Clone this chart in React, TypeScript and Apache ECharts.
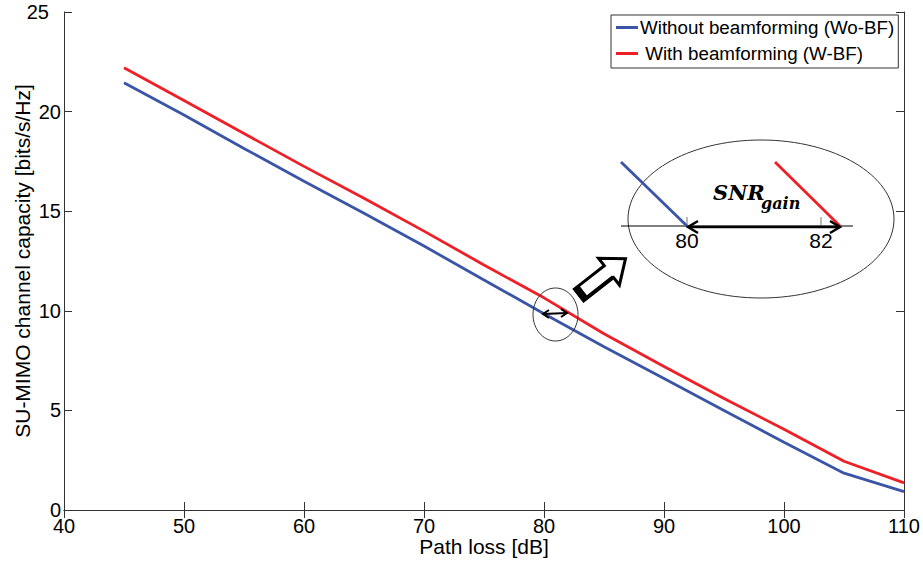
import React, { useEffect, useRef } from "react";
import * as echarts from "echarts";

const pathLoss = [45, 50, 55, 60, 65, 70, 75, 80, 85, 90, 95, 100, 105, 110];
const capacityWoBF = [21.45, 19.83, 18.15, 16.5, 14.9, 13.25, 11.55, 9.85, 8.2, 6.6, 5.0, 3.4, 1.85, 0.92];
const capacityWBF = [22.2, 20.56, 18.9, 17.25, 15.65, 14.0, 12.3, 10.65, 8.85, 7.2, 5.6, 4.05, 2.45, 1.36];
const seriesNames = ["Without beamforming (Wo-BF)", " With beamforming (W-BF)"];
const xTitle = "Path loss [dB]";
const yTitle = "SU-MIMO channel capacity [bits/s/Hz]";
const insetTicks = ["80", "82"];

const FONT = "Liberation Sans, Arial, sans-serif";
const BLUE = "#3b55a6";
const RED = "#ee1f26";
const AX = "#333333";

export default function App() {
  const ref = useRef<HTMLDivElement>(null);
  useEffect(() => {
    if (!ref.current) return;
    const chart = echarts.init(ref.current, null, { renderer: "svg" });
    const toPairs = (ys: number[]) => pathLoss.map((x, i) => [x, ys[i]]);
    const deg = (d: number) => (d * Math.PI) / 180;
    const axisCommon = {
      axisLine: { show: true, lineStyle: { color: AX, width: 1 } },
      axisTick: { show: true, inside: true, length: 8, lineStyle: { color: AX } },
      splitLine: { show: false },
    };
    const legendIcon = "path://M0,0 H22 V3 H0 Z";
    chart.setOption({
      animation: false,
      backgroundColor: "#ffffff",
      grid: { left: 64, right: 19, top: 12, bottom: 55, containLabel: false, outerBoundsMode: "none" },
      legend: {
        orient: "vertical",
        left: 611,
        top: 15,
        padding: [3, 4, 5, 5],
        itemGap: 7,
        itemWidth: 22,
        itemHeight: 18,
        backgroundColor: "#ffffff",
        borderColor: AX,
        borderWidth: 1,
        textStyle: { fontFamily: FONT, fontSize: 18.8, color: "#000", padding: [0, 0, 0, -3] },
        data: seriesNames.map((n) => ({ name: n, icon: legendIcon })),
      },
      xAxis: [
        {
          type: "value",
          min: 40,
          max: 110,
          interval: 10,
          name: xTitle,
          nameLocation: "middle",
          nameGap: 26,
          nameMoveOverlap: false,
          nameTextStyle: { fontFamily: FONT, fontSize: 21, color: "#000" },
          axisLabel: { fontFamily: FONT, fontSize: 20, color: "#000", margin: 6 },
          ...axisCommon,
        },
        {
          type: "value",
          position: "top",
          min: 40,
          max: 110,
          interval: 10,
          axisLabel: { show: false },
          ...axisCommon,
        },
      ],
      yAxis: [
        {
          type: "value",
          min: 0,
          max: 25,
          interval: 5,
          name: yTitle,
          nameLocation: "middle",
          nameGap: 31,
          nameMoveOverlap: false,
          nameTextStyle: { fontFamily: FONT, fontSize: 21, color: "#000" },
          axisLabel: {
            fontFamily: FONT,
            fontSize: 20,
            color: "#000",
            margin: 3,
            formatter: (v: number) => (v === 25 ? "{a|25}" : String(v)),
            rich: { a: { fontFamily: FONT, fontSize: 20, color: "#000", padding: [0, 12, 0, 0] } },
          },
          ...axisCommon,
        },
        {
          type: "value",
          position: "right",
          min: 0,
          max: 25,
          interval: 5,
          axisLabel: { show: false },
          ...axisCommon,
        },
      ],
      series: [
        {
          name: seriesNames[0],
          type: "line",
          data: toPairs(capacityWoBF),
          symbol: "none",
          color: BLUE,
          lineStyle: { color: BLUE, width: 2.8 },
          z: 3,
        },
        {
          name: seriesNames[1],
          type: "line",
          data: toPairs(capacityWBF),
          symbol: "none",
          color: RED,
          lineStyle: { color: RED, width: 2.8 },
          z: 3,
        },
      ],
      graphic: [
        { type: "ellipse", shape: { cx: 761, cy: 219, rx: 133, ry: 79 }, style: { fill: "none", stroke: "#333", lineWidth: 1 }, z: 10 },
        { type: "line", shape: { x1: 621, y1: 226, x2: 853, y2: 226 }, style: { stroke: "#000", lineWidth: 1 }, z: 10 },
        { type: "line", shape: { x1: 687, y1: 217, x2: 687, y2: 226 }, style: { stroke: "#777", lineWidth: 1 }, z: 10 },
        { type: "line", shape: { x1: 821, y1: 217, x2: 821, y2: 226 }, style: { stroke: "#777", lineWidth: 1 }, z: 10 },
        { type: "line", shape: { x1: 621, y1: 162, x2: 687, y2: 226 }, style: { stroke: BLUE, lineWidth: 2.8 }, z: 11 },
        { type: "line", shape: { x1: 775, y1: 162, x2: 840, y2: 226 }, style: { stroke: RED, lineWidth: 2.8 }, z: 11 },
        { type: "text", x: 687, y: 240, style: { text: insetTicks[0], font: `21px ${FONT}`, fill: "#000", align: "center", verticalAlign: "middle" }, z: 12 },
        { type: "text", x: 821, y: 240, style: { text: insetTicks[1], font: `21px ${FONT}`, fill: "#000", align: "center", verticalAlign: "middle" }, z: 12 },
        { type: "line", shape: { x1: 689, y1: 227, x2: 839, y2: 227 }, style: { stroke: "#000", lineWidth: 2.5 }, z: 12 },
        { type: "polyline", shape: { points: [[698, 221], [688, 227], [698, 233]] }, style: { stroke: "#000", lineWidth: 2.5, fill: "none" }, z: 12 },
        { type: "polyline", shape: { points: [[830, 221], [840, 227], [830, 233]] }, style: { stroke: "#000", lineWidth: 2.5, fill: "none" }, z: 12 },
        { type: "text", x: 713, y: 203, style: { text: "SNR", font: `italic bold 21px "DejaVu Serif", serif`, fill: "#000", align: "left", verticalAlign: "bottom" }, z: 12 },
        { type: "text", x: 761, y: 211, style: { text: "gain", font: `italic bold 16px "DejaVu Serif", serif`, fill: "#000", align: "left", verticalAlign: "bottom" }, z: 12 },
        { type: "ellipse", shape: { cx: 555.5, cy: 314.5, rx: 22.5, ry: 26.5 }, style: { fill: "none", stroke: "#333", lineWidth: 1 }, z: 10 },
        { type: "line", shape: { x1: 543, y1: 314, x2: 567, y2: 313 }, style: { stroke: "#000", lineWidth: 2 }, z: 12 },
        { type: "polyline", shape: { points: [[549, 310], [543, 314], [549, 318]] }, style: { stroke: "#000", lineWidth: 2, fill: "none" }, z: 12 },
        { type: "polyline", shape: { points: [[561, 309], [567, 313], [561, 317]] }, style: { stroke: "#000", lineWidth: 2, fill: "none" }, z: 12 },
        {
          type: "group",
          x: 579,
          y: 295,
          rotation: deg(38),
          z: 12,
          children: [
            {
              type: "polygon",
              shape: { points: [[0, -7.5], [38, -7.5], [38, -17], [59, 0], [38, 17], [38, 7.5], [0, 7.5]] },
              style: { fill: "#ffffff", stroke: "#000", lineWidth: 3 },
              z: 12,
            },
            { type: "rect", shape: { x: -1, y: -8.5, width: 7, height: 17 }, style: { fill: "#000" }, z: 13 },
            { type: "rect", shape: { x: 0, y: 5, width: 38, height: 3.5 }, style: { fill: "#000" }, z: 13 },
          ],
        },
      ],
    });
    return () => chart.dispose();
  }, []);
  return (
    <div
      ref={ref}
      style={{ position: "fixed", left: 0, top: 0, width: 923, height: 565, background: "#fff" }}
    />
  );
}
